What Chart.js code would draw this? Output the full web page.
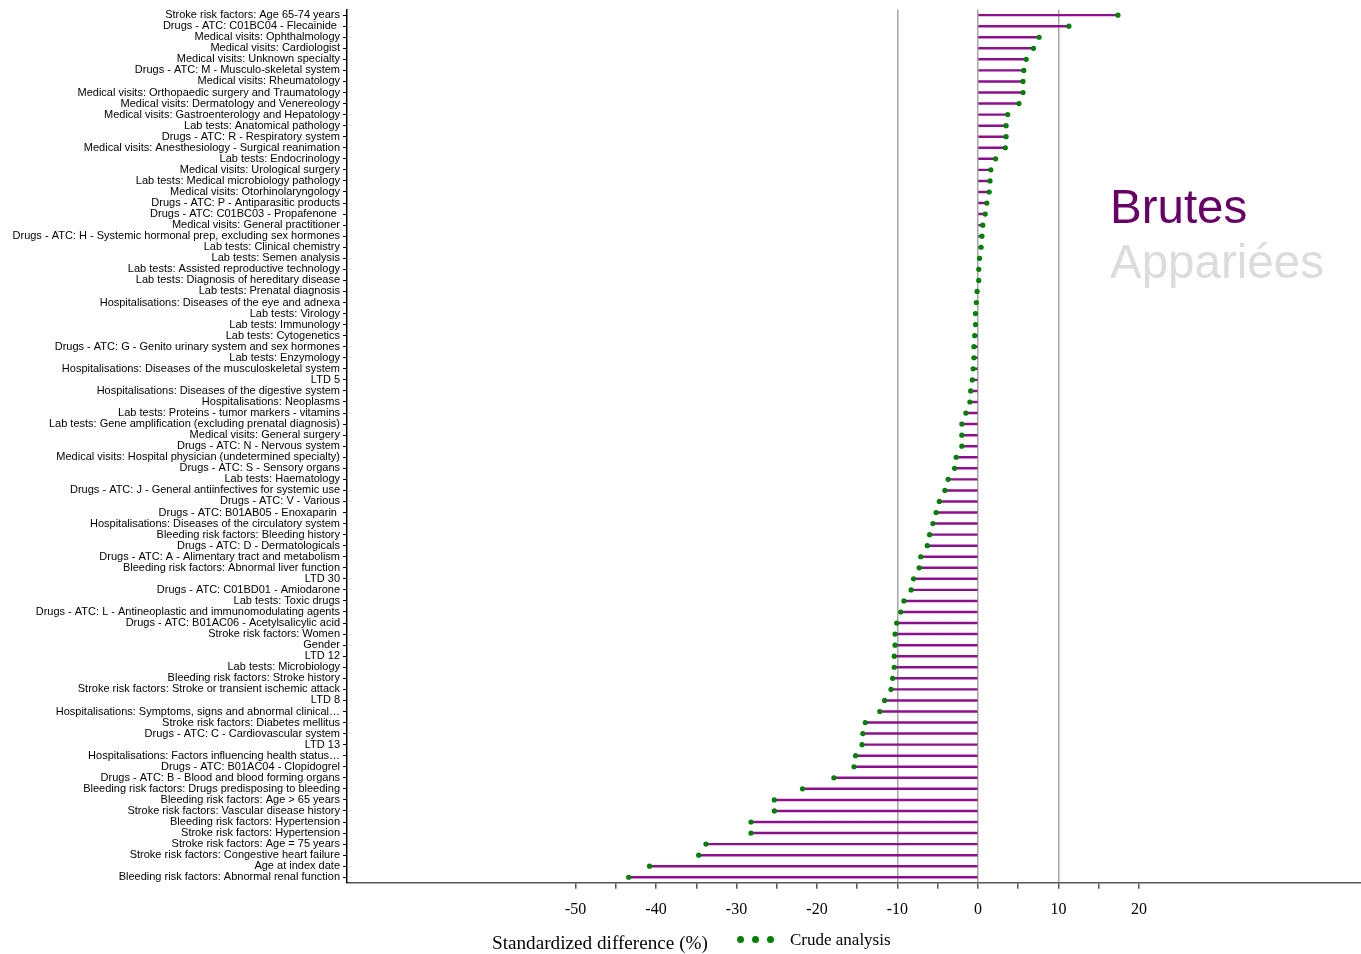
<!DOCTYPE html>
<html>
<head>
<meta charset="utf-8">
<script src="https://cdn.jsdelivr.net/npm/chart.js@4.4.0/dist/chart.umd.min.js"></script>
<style>
  html, body { margin: 0; padding: 0; background: #fff; }
  #wrap { position: relative; width: 1361px; height: 954px; overflow: hidden; }
  #chart { position: absolute; left: 0; top: 0; }
  .mode { position: absolute; left: 1110px; font-family: "Liberation Sans", Arial, sans-serif; font-size: 47.5px; line-height: 55px; }
  #brutes { top: 179px; color: #660066; }
  #appariees { top: 234px; color: #dcdcdc; }
  #xtitle { position: absolute; left: 492px; top: 932px; font-family: "Liberation Serif", "Times New Roman", serif; font-size: 19.2px; color: #000; }
  #legend { position: absolute; left: 737px; top: 930px; font-family: "Liberation Serif", "Times New Roman", serif; font-size: 17px; color: #000; white-space: nowrap; }
  #legend .dot { display: inline-block; width: 7px; height: 7px; border-radius: 50%; background: #008000; margin-right: 8px; vertical-align: 2px; }
  #legend .txt { margin-left: 8px; }
</style>
</head>
<body>
<div id="wrap">
  <canvas id="chart" width="1361" height="954"></canvas>
  <div id="brutes" class="mode">Brutes</div>
  <div id="appariees" class="mode">Appariées</div>
  <div id="xtitle">Standardized difference (%)</div>
  <div id="legend"><span class="dot"></span><span class="dot"></span><span class="dot"></span><span class="txt">Crude analysis</span></div>
</div>
<script>
const categories = [
  'Stroke risk factors: Age 65-74 years',
  'Drugs - ATC: C01BC04 - Flecainide ',
  'Medical visits: Ophthalmology',
  'Medical visits: Cardiologist',
  'Medical visits: Unknown specialty',
  'Drugs - ATC: M - Musculo-skeletal system',
  'Medical visits: Rheumatology',
  'Medical visits: Orthopaedic surgery and Traumatology',
  'Medical visits: Dermatology and Venereology',
  'Medical visits: Gastroenterology and Hepatology',
  'Lab tests: Anatomical pathology',
  'Drugs - ATC: R - Respiratory system',
  'Medical visits: Anesthesiology - Surgical reanimation',
  'Lab tests: Endocrinology',
  'Medical visits: Urological surgery',
  'Lab tests: Medical microbiology pathology',
  'Medical visits: Otorhinolaryngology',
  'Drugs - ATC: P - Antiparasitic products',
  'Drugs - ATC: C01BC03 - Propafenone ',
  'Medical visits: General practitioner',
  'Drugs - ATC: H - Systemic hormonal prep, excluding sex hormones',
  'Lab tests: Clinical chemistry',
  'Lab tests: Semen analysis',
  'Lab tests: Assisted reproductive technology',
  'Lab tests: Diagnosis of hereditary disease',
  'Lab tests: Prenatal diagnosis',
  'Hospitalisations: Diseases of the eye and adnexa',
  'Lab tests: Virology',
  'Lab tests: Immunology',
  'Lab tests: Cytogenetics',
  'Drugs - ATC: G - Genito urinary system and sex hormones',
  'Lab tests: Enzymology',
  'Hospitalisations: Diseases of the musculoskeletal system',
  'LTD 5',
  'Hospitalisations: Diseases of the digestive system',
  'Hospitalisations: Neoplasms',
  'Lab tests: Proteins - tumor markers - vitamins',
  'Lab tests: Gene amplification (excluding prenatal diagnosis)',
  'Medical visits: General surgery',
  'Drugs - ATC: N - Nervous system',
  'Medical visits: Hospital physician (undetermined specialty)',
  'Drugs - ATC: S - Sensory organs',
  'Lab tests: Haematology',
  'Drugs - ATC: J - General antiinfectives for systemic use',
  'Drugs - ATC: V - Various',
  'Drugs - ATC: B01AB05 - Enoxaparin ',
  'Hospitalisations: Diseases of the circulatory system',
  'Bleeding risk factors: Bleeding history',
  'Drugs - ATC: D - Dermatologicals',
  'Drugs - ATC: A - Alimentary tract and metabolism',
  'Bleeding risk factors: Abnormal liver function',
  'LTD 30',
  'Drugs - ATC: C01BD01 - Amiodarone',
  'Lab tests: Toxic drugs',
  'Drugs - ATC: L - Antineoplastic and immunomodulating agents',
  'Drugs - ATC: B01AC06 - Acetylsalicylic acid',
  'Stroke risk factors: Women',
  'Gender',
  'LTD 12',
  'Lab tests: Microbiology',
  'Bleeding risk factors: Stroke history',
  'Stroke risk factors: Stroke or transient ischemic attack',
  'LTD 8',
  'Hospitalisations: Symptoms, signs and abnormal clinical…',
  'Stroke risk factors: Diabetes mellitus',
  'Drugs - ATC: C - Cardiovascular system',
  'LTD 13',
  'Hospitalisations: Factors influencing health status…',
  'Drugs - ATC: B01AC04 - Clopidogrel',
  'Drugs - ATC: B - Blood and blood forming organs',
  'Bleeding risk factors: Drugs predisposing to bleeding',
  'Bleeding risk factors: Age > 65 years',
  'Stroke risk factors: Vascular disease history',
  'Bleeding risk factors: Hypertension',
  'Stroke risk factors: Hypertension',
  'Stroke risk factors: Age = 75 years',
  'Stroke risk factors: Congestive heart failure',
  'Age at index date',
  'Bleeding risk factors: Abnormal renal function'
];

// standardized difference (%), crude analysis
const crudeValues = [
  17.4, 11.3, 7.6, 6.9, 6.0, 5.7, 5.6, 5.6, 5.1, 3.7,
  3.5, 3.5, 3.4, 2.2, 1.6, 1.5, 1.4, 1.1, 0.9, 0.6,
  0.5, 0.4, 0.2, 0.1, 0.1, -0.1, -0.2, -0.3, -0.3, -0.4,
  -0.5, -0.5, -0.6, -0.7, -0.9, -1.0, -1.5, -2.0, -2.0, -2.0,
  -2.7, -2.9, -3.7, -4.1, -4.8, -5.2, -5.6, -6.0, -6.3, -7.1,
  -7.3, -8.0, -8.3, -9.2, -9.6, -10.1, -10.3, -10.3, -10.4, -10.4,
  -10.6, -10.8, -11.6, -12.2, -14.0, -14.3, -14.4, -15.2, -15.4, -17.9,
  -21.8, -25.3, -25.3, -28.2, -28.2, -33.8, -34.7, -40.8, -43.4
];

const xTicks = [-50, -45, -40, -35, -30, -25, -20, -15, -10, -5, 0, 5, 10, 15, 20];
const xLabelled = [-50, -40, -30, -20, -10, 0, 10, 20];
const refLines = [-10, 0, 10];

const serif = '"Liberation Serif", "Times New Roman", serif';
const sans = '"Liberation Sans", Arial, sans-serif';

new Chart(document.getElementById('chart'), {
  data: {
    labels: categories,
    datasets: [
      {
        type: 'line',
        indexAxis: 'y',
        data: crudeValues,
        showLine: false,
        pointRadius: 2.6,
        pointBackgroundColor: '#008000',
        pointBorderColor: '#008000',
        pointBorderWidth: 0,
        order: 0
      },
      {
        type: 'bar',
        indexAxis: 'y',
        data: crudeValues,
        backgroundColor: '#8b108b',
        barThickness: 1.8,
        order: 1
      }
    ]
  },
  options: {
    responsive: false,
    animation: false,
    indexAxis: 'y',
    layout: { autoPadding: false, padding: { top: 8, bottom: 24, left: 0, right: 0 } },
    plugins: { legend: { display: false }, tooltip: { enabled: false } },
    scales: {
      x: {
        type: 'linear',
        position: 'bottom',
        min: -78.4,
        max: 47.6,
        afterBuildTicks: s => { s.ticks = xTicks.map(v => ({ value: v })); },
        ticks: {
          callback: v => xLabelled.includes(v) ? String(v) : '',
          font: { family: serif, size: 16 },
          color: '#000',
          padding: 11,
          maxRotation: 0,
          autoSkip: false
        },
        grid: {
          color: ctx => (ctx.tick && refLines.includes(ctx.tick.value)) ? '#a6a6a6' : 'rgba(0,0,0,0)',
          lineWidth: 1.5,
          tickColor: '#555',
          tickLength: 6
        },
        border: { color: '#555', width: 1.5 }
      },
      y: {
        type: 'category',
        offset: true,
        afterFit: s => { s.width = 347; },
        ticks: {
          autoSkip: false,
          font: { family: sans, size: 11 },
          color: '#000',
          padding: 3
        },
        grid: { offset: false, drawOnChartArea: false, tickLength: 4, tickColor: '#000', lineWidth: 1 },
        border: { color: '#000', width: 1.5 }
      }
    }
  }
});
</script>
</body>
</html>
